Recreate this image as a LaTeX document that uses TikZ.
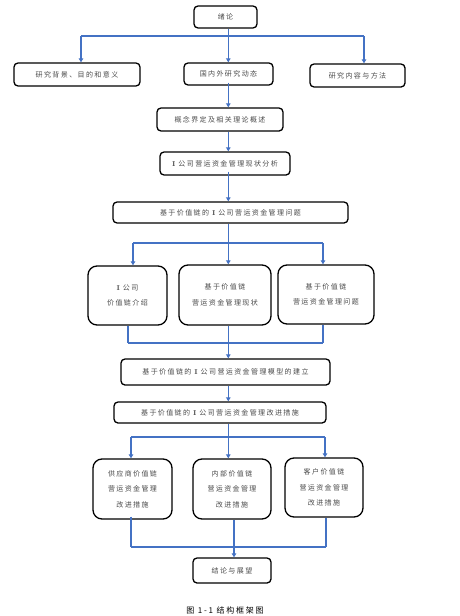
\documentclass[tikz,border=0pt]{standalone}
\usepackage{fontspec}
\newfontfamily\cjk[LetterSpace=20]{Noto Sans CJK SC}
\newfontfamily\cjkcap[LetterSpace=22]{Noto Sans CJK SC}
\usetikzlibrary{arrows.meta}
\definecolor{lineblue}{HTML}{4472C4}
\definecolor{txtgray}{HTML}{4A4A4A}
\newcommand{\bI}{{\normalfont\bfseries I}}
\begin{document}
\begin{tikzpicture}[x=1pt,y=-1pt,
  box/.style 2 args={draw=black,line width=1.3pt,rounded corners=4pt,
    minimum width=#1,minimum height=#2,inner sep=0pt,
    font=\cjk\fontsize{7}{15.5}\selectfont,text=txtgray,align=center},
  tallbox/.style 2 args={box={#1}{#2},rounded corners=9pt},
  link/.style={draw=lineblue,line width=1.2pt},
  arr/.style={link,-{Triangle[length=4pt,width=4.5pt]}}]
\useasboundingbox[fill=white] (0,0) rectangle (460,616);

% nodes
\node[box={63}{22}] (xl) at (225.5,17) {绪论};
\node[box={126}{23}] (a1) at (77,74.5) {研究背景、目的和意义};
\node[box={89}{22}] (a2) at (228.5,74) {国内外研究动态};
\node[box={95}{23}] (a3) at (357.5,75.5) {研究内容与方法};
\node[box={126}{23}] (b) at (220,119.5) {概念界定及相关理论概述};
\node[box={130}{23}] (c) at (225,163.5) {\bI\ 公司营运资金管理现状分析};
\node[box={235}{21}] (d) at (230.5,212.5) {基于价值链的 \bI\ 公司营运资金管理问题};
\node[tallbox={79}{59}] (e1) at (127.5,295.5) {\bI\ 公司\\价值链介绍};
\node[tallbox={92}{60}] (e2) at (225,295) {基于价值链\\营运资金管理现状};
\node[tallbox={96}{59}] (e3) at (326,294.5) {基于价值链\\营运资金管理问题};
\node[box={209}{26}] (f) at (225.5,372) {基于价值链的 \bI\ 公司营运资金管理模型的建立};
\node[box={212}{21}] (g) at (220,412.5) {基于价值链的 \bI\ 公司营运资金管理改进措施};
\node[tallbox={79}{60}] (h1) at (132.5,489) {供应商价值链\\营运资金管理\\改进措施};
\node[tallbox={78}{60}] (h2) at (232,489) {内部价值链\\营运资金管理\\改进措施};
\node[tallbox={78}{59}] (h3) at (324,487.5) {客户价值链\\营运资金管理\\改进措施};
\node[box={78}{25}] (k) at (232,570.5) {结论与展望};
\node[font=\cjkcap\fontsize{8}{10}\selectfont,text=black] (cap) at (225,610) {图 1-1 结构框架图};

% spine and junction coordinates
\coordinate (s) at (228.3,0);
\coordinate (j0) at (228.3,36);
\coordinate (j0l) at (81,36);
\coordinate (j0r) at (364,36);
\coordinate (j1) at (228.3,243);
\coordinate (j1l) at (133,243);
\coordinate (j1r) at (323,243);
\coordinate (j2) at (228.3,343);
\coordinate (j2l) at (128,343);
\coordinate (j2r) at (323,343);
\coordinate (j3) at (228.3,437);
\coordinate (j3l) at (131,437);
\coordinate (j3r) at (325,437);
\coordinate (j4) at (234,547);
\coordinate (j4l) at (131,547);
\coordinate (j4r) at (326,547);

% connectors
\draw[link] (xl.south -| s) -- (j0);
\draw[link] (j0l) -- (j0r);
\draw[arr] (j0l) -- (j0l |- a1.north);
\draw[arr] (j0) -- (j0 |- a2.north);
\draw[arr] (j0r) -- (j0r |- a3.north);
\draw[arr] ([yshift=3pt]a2.south -| s) -- (b.north -| s);
\draw[arr] (b.south -| s) -- (c.north -| s);
\draw[arr] ([yshift=4pt]c.south -| s) -- (d.north -| s);
\draw[link] (d.south -| s) -- (j1);
\draw[link] (j1l) -- (j1r);
\draw[arr] (j1l) -- (j1l |- e1.north);
\draw[arr] (j1) -- (j1 |- e2.north);
\draw[arr] (j1r) -- (j1r |- e3.north);
\draw[link] (e1.south -| j2l) -- (j2l);
\draw[link] (e2.south -| j2) -- (j2);
\draw[link] (e3.south -| j2r) -- (j2r);
\draw[link] (j2l) -- (j2r);
\draw[arr] (j2) -- (j2 |- f.north);
\draw[arr] (f.south -| s) -- (g.north -| s);
\draw[link] (g.south -| s) -- (j3);
\draw[link] (j3l) -- (j3r);
\draw[arr] (j3l) -- (j3l |- h1.north);
\draw[arr] (j3) -- (j3 |- h2.north);
\draw[arr] (j3r) -- (j3r |- h3.north);
\draw[link] ([yshift=3pt]h1.south -| j4l) -- (j4l);
\draw[link] (h3.south -| j4r) -- (j4r);
\draw[link] (j4l) -- (j4r);
\draw[arr] (h2.south -| j4) -- (j4 |- k.north);
\end{tikzpicture}
\end{document}
